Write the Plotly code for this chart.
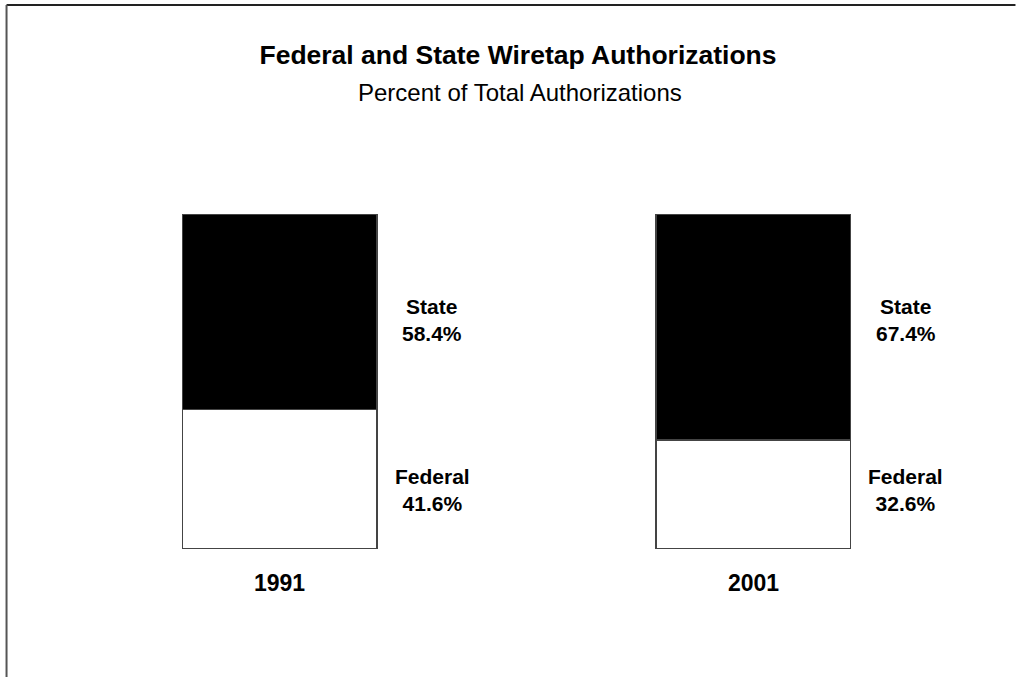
import plotly.graph_objects as go

# Data
years = ["1991", "2001"]
federal = [41.6, 32.6]
state = [58.4, 67.4]

x_pos = list(range(len(years)))
font = "Liberation Sans, Arial, sans-serif"

# plot area in pixels: x range [-0.5, 1.5] over 42.5..990.5, y range [0, 100] over 549..214
W, H = 1016, 677
L, R, T, B = 42.5, 25.5, 214, 128
plot_w = W - L - R
plot_h = H - T - B


def px_x(p):
    return (p - L) / plot_w


def px_y(p):
    return (H - B - p) / plot_h


fig = go.Figure()

# Federal share at the bottom (white), state share stacked on top (black)
fig.add_trace(go.Bar(x=x_pos, y=federal, name="Federal", width=0.411,
                     marker=dict(color="white", line=dict(color="#444", width=1.5))))
fig.add_trace(go.Bar(x=x_pos, y=state, name="State", width=0.411,
                     marker=dict(color="black", line=dict(color="#444", width=1.5))))

# Labels to the right of each bar and year under it
for i, yr in enumerate(years):
    lx = i + 0.322
    for txt, yv in [(f"State<br>{state[i]:.1f}%", 68.4),
                    (f"Federal<br>{federal[i]:.1f}%", 17.6)]:
        fig.add_annotation(x=lx, y=yv, text=f"<b>{txt}</b>", showarrow=False,
                           xanchor="center", yanchor="middle",
                           font=dict(size=21, color="black", family=font))
    fig.add_annotation(x=i, y=-0.101, yref="paper", text=f"<b>{yr}</b>", showarrow=False,
                       xanchor="center", yanchor="middle",
                       font=dict(size=23, color="black", family=font))

# Subtitle
fig.add_annotation(x=px_x(520), xref="paper", y=px_y(93), yref="paper",
                   text="Percent of Total Authorizations", showarrow=False,
                   xanchor="center", yanchor="middle",
                   font=dict(size=24, color="black", family=font))

# Frame lines at top and left of the page
fig.add_shape(type="line", xref="paper", yref="paper",
              x0=px_x(6), x1=px_x(W), y0=px_y(5), y1=px_y(5),
              line=dict(color="#222", width=2))
fig.add_shape(type="line", xref="paper", yref="paper",
              x0=px_x(6), x1=px_x(6), y0=px_y(5), y1=px_y(H),
              line=dict(color="#555", width=2))

fig.update_layout(
    title=dict(text="<b>Federal and State Wiretap Authorizations</b>",
               x=518 / W, xanchor="center", y=1 - 55 / H, yanchor="middle",
               font=dict(size=26.5, color="black", family=font)),
    barmode="stack",
    showlegend=False,
    width=W, height=H,
    margin=dict(l=L, r=R, t=T, b=B, pad=0),
    paper_bgcolor="white", plot_bgcolor="white",
    xaxis=dict(range=[-0.5, 1.5], visible=False),
    yaxis=dict(range=[0, 100], visible=False),
    font=dict(family=font),
)

fig.write_html("out.html", config={"displayModeBar": False},
               post_script="document.body.style.margin='0';")
